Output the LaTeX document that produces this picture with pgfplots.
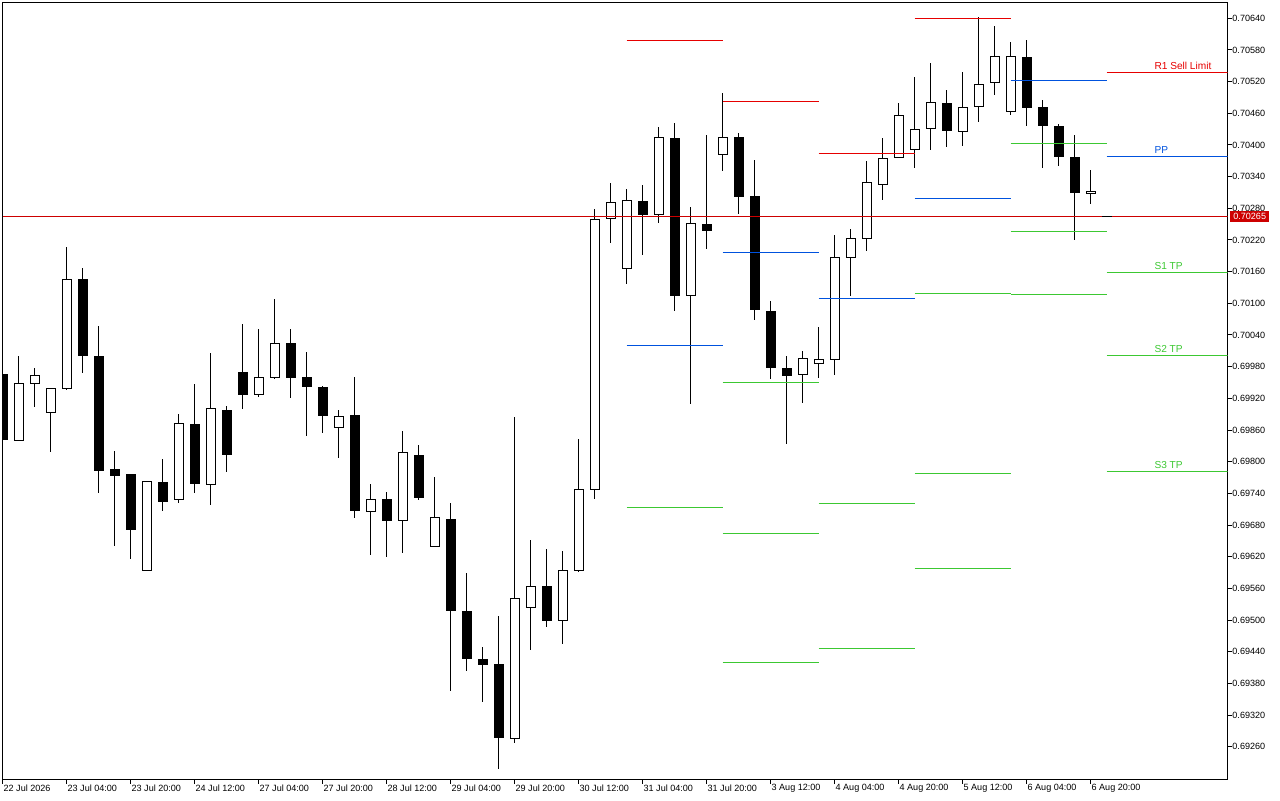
\documentclass[border=0pt]{standalone}
\usepackage{fontspec}
\setmainfont{Liberation Sans}
\usepackage{pgfplots}
\usepackage{pgfplotstable}
\pgfplotsset{compat=1.18}
\definecolor{lvred}{RGB}{230,0,0}
\definecolor{lvblue}{RGB}{0,82,222}
\definecolor{lvgreen}{RGB}{60,200,50}
\definecolor{pricered}{RGB}{205,0,0}

% bullish (white) candles
\pgfplotstableread{
i O H L C
1 0.69842 0.70002 0.69840 0.69949
2 0.69949 0.69978 0.69904 0.69964
3 0.69895 0.69942 0.69819 0.69939
4 0.69939 0.70207 0.69936 0.70147
9 0.69594 0.69763 0.69594 0.69763
11 0.69729 0.69890 0.69722 0.69873
13 0.69757 0.70007 0.69720 0.69901
16 0.69928 0.70053 0.69923 0.69960
17 0.69961 0.70108 0.69957 0.70026
21 0.69867 0.69898 0.69808 0.69888
23 0.69708 0.69758 0.69624 0.69729
25 0.69689 0.69860 0.69628 0.69816
27 0.69640 0.69773 0.69640 0.69695
32 0.69278 0.69885 0.69267 0.69543
33 0.69524 0.69652 0.69444 0.69564
35 0.69500 0.69631 0.69456 0.69594
36 0.69594 0.69843 0.69592 0.69748
37 0.69748 0.70281 0.69730 0.70259
38 0.70261 0.70328 0.70215 0.70291
39 0.70166 0.70317 0.70137 0.70295
41 0.70269 0.70434 0.70253 0.70415
43 0.70115 0.70283 0.69911 0.70252
45 0.70382 0.70499 0.70351 0.70416
50 0.69966 0.70010 0.69911 0.69996
51 0.69988 0.70057 0.69959 0.69996
52 0.69994 0.70231 0.69965 0.70187
53 0.70187 0.70241 0.70115 0.70223
54 0.70223 0.70370 0.70200 0.70329
55 0.70327 0.70415 0.70298 0.70377
56 0.70377 0.70481 0.70377 0.70458
57 0.70392 0.70529 0.70357 0.70430
58 0.70432 0.70557 0.70391 0.70481
60 0.70426 0.70538 0.70399 0.70471
61 0.70473 0.70643 0.70444 0.70515
62 0.70519 0.70625 0.70495 0.70568
63 0.70464 0.70597 0.70457 0.70568
68 0.70308 0.70353 0.70289 0.70313
}\bull

% bearish (black) candles
\pgfplotstableread{
i O H L C
0 0.69968 0.69983 0.69839 0.69842
5 0.70147 0.70168 0.69969 0.70001
6 0.70002 0.70057 0.69741 0.69783
7 0.69788 0.69820 0.69641 0.69774
8 0.69776 0.69777 0.69616 0.69671
10 0.69763 0.69805 0.69707 0.69726
12 0.69873 0.69949 0.69741 0.69759
14 0.69899 0.69906 0.69781 0.69813
15 0.69971 0.70062 0.69900 0.69927
18 0.70026 0.70051 0.69921 0.69959
19 0.69962 0.70008 0.69849 0.69942
20 0.69942 0.69943 0.69855 0.69887
22 0.69888 0.69962 0.69694 0.69707
24 0.69729 0.69744 0.69620 0.69688
26 0.69815 0.69832 0.69728 0.69732
28 0.69693 0.69722 0.69366 0.69518
29 0.69518 0.69589 0.69404 0.69427
30 0.69428 0.69449 0.69345 0.69417
31 0.69418 0.69508 0.69218 0.69277
34 0.69565 0.69635 0.69487 0.69499
40 0.70295 0.70326 0.70192 0.70268
42 0.70415 0.70442 0.70086 0.70115
44 0.70252 0.70419 0.70204 0.70238
46 0.70416 0.70425 0.70270 0.70302
47 0.70303 0.70372 0.70069 0.70088
48 0.70087 0.70104 0.69957 0.69979
49 0.69979 0.70002 0.69834 0.69965
59 0.70479 0.70504 0.70397 0.70427
64 0.70568 0.70599 0.70435 0.70471
65 0.70473 0.70485 0.70357 0.70437
66 0.70437 0.70440 0.70361 0.70378
67 0.70379 0.70421 0.70222 0.70310
}\bear

\pgfplotsset{candle/.style={draw=none, mark=none, forget plot,
  error bars/.cd, y dir=both, y explicit, error mark=none},
  lvl/.style={line width=0.75pt, forget plot}}

\begin{document}
\begin{tikzpicture}
\useasboundingbox (0,0) rectangle (960pt,600pt);
\begin{axis}[
  at={(1.875pt,15.375pt)}, anchor=south west,
  scale only axis, width=918.75pt, height=582.75pt,
  xmin=-0.0125, xmax=76.55, ymin=0.691979, ymax=0.706699,
  axis line style={line width=0.75pt, black},
  tick style={black, line width=0.75pt},
  tick align=outside, major tick length=3pt,
  xtick pos=bottom, ytick pos=right, yticklabel pos=right,
  scaled y ticks=false,
  xtick={0,4,...,68},
  xticklabels={22 Jul 2026, 23 Jul 04:00, 23 Jul 20:00, 24 Jul 12:00, 27 Jul 04:00, 27 Jul 20:00, 28 Jul 12:00, 29 Jul 04:00, 29 Jul 20:00, 30 Jul 12:00, 31 Jul 04:00, 31 Jul 20:00, 3 Aug 12:00, 4 Aug 04:00, 4 Aug 20:00, 5 Aug 12:00, 6 Aug 04:00, 6 Aug 20:00},
  ytick={0.69260,0.69320,0.69380,0.69440,0.69500,0.69560,0.69620,0.69680,0.69740,0.69800,0.69860,0.69920,0.69980,0.70040,0.70100,0.70160,0.70220,0.70280,0.70340,0.70400,0.70460,0.70520,0.70580,0.70640},
  yticklabels={0.69260,0.69320,0.69380,0.69440,0.69500,0.69560,0.69620,0.69680,0.69740,0.69800,0.69860,0.69920,0.69980,0.70040,0.70100,0.70160,0.70220,0.70280,0.70340,0.70400,0.70460,0.70520,0.70580,0.70640},
  ticklabel style={font=\fontsize{6.8pt}{8pt}\selectfont, text=black},
  xticklabel style={anchor=north west, inner sep=0pt, xshift=0.5pt, yshift=-0.5pt},
  yticklabel style={anchor=west, inner sep=0pt, xshift=0.5pt},
]
% wicks
\addplot[candle, error bar style={draw=black, line width=0.75pt}]
  table[x=i, y expr={(\thisrow{H}+\thisrow{L})/2}, y error expr={(\thisrow{H}-\thisrow{L})/2}] {\bull};
\addplot[candle, error bar style={draw=black, line width=0.75pt}]
  table[x=i, y expr={(\thisrow{H}+\thisrow{L})/2}, y error expr={(\thisrow{H}-\thisrow{L})/2}] {\bear};
% bearish bodies
\addplot[candle, error bar style={draw=black, line width=7.5pt}]
  table[x=i, y expr={(\thisrow{O}+\thisrow{C})/2}, y error expr={max((\thisrow{O}-\thisrow{C})/2,0.00001)}] {\bear};
% bullish bodies: outline then white interior
\addplot[candle, error bar style={draw=black, line width=7.5pt}]
  table[x=i, y expr={(\thisrow{O}+\thisrow{C})/2}, y error expr={max((\thisrow{C}-\thisrow{O})/2+0.0000095,0.00001)}] {\bull};
\addplot[candle, error bar style={draw=white, line width=6pt}]
  table[x=i, y expr={(\thisrow{O}+\thisrow{C})/2}, y error expr={max((\thisrow{C}-\thisrow{O})/2-0.0000095,0.000001)}] {\bull};

% pivot levels per day
\addplot[lvl, draw=lvred] coordinates {(39,0.705979) (45,0.705979)};
\addplot[lvl, draw=lvblue] coordinates {(39,0.700201) (45,0.700201)};
\addplot[lvl, draw=lvgreen] coordinates {(39,0.697132) (45,0.697132)};

\addplot[lvl, draw=lvred] coordinates {(45,0.704824) (51,0.704824)};
\addplot[lvl, draw=lvblue] coordinates {(45,0.701963) (51,0.701963)};
\addplot[lvl, draw=lvgreen] coordinates {(45,0.699500) (51,0.699500)};
\addplot[lvl, draw=lvgreen] coordinates {(45,0.696639) (51,0.696639)};
\addplot[lvl, draw=lvgreen] coordinates {(45,0.694195) (51,0.694195)};

\addplot[lvl, draw=lvred] coordinates {(51,0.703838) (57,0.703838)};
\addplot[lvl, draw=lvblue] coordinates {(51,0.701091) (57,0.701091)};
\addplot[lvl, draw=lvgreen] coordinates {(51,0.697208) (57,0.697208)};
\addplot[lvl, draw=lvgreen] coordinates {(51,0.694461) (57,0.694461)};

\addplot[lvl, draw=lvred] coordinates {(57,0.706396) (63,0.706396)};
\addplot[lvl, draw=lvblue] coordinates {(57,0.702986) (63,0.702986)};
\addplot[lvl, draw=lvgreen] coordinates {(57,0.701186) (63,0.701186)};
\addplot[lvl, draw=lvgreen] coordinates {(57,0.697776) (63,0.697776)};
\addplot[lvl, draw=lvgreen] coordinates {(57,0.695976) (63,0.695976)};

\addplot[lvl, draw=lvblue] coordinates {(63,0.705221) (69,0.705221)};
\addplot[lvl, draw=lvgreen] coordinates {(63,0.704028) (69,0.704028)};
\addplot[lvl, draw=lvgreen] coordinates {(63,0.702361) (69,0.702361)};
\addplot[lvl, draw=lvgreen] coordinates {(63,0.701167) (69,0.701167)};

\addplot[lvl, draw=lvred] coordinates {(69,0.705373) (76.55,0.705373)};
\addplot[lvl, draw=lvblue] coordinates {(69,0.703782) (76.55,0.703782)};
\addplot[lvl, draw=lvgreen] coordinates {(69,0.701584) (76.55,0.701584)};
\addplot[lvl, draw=lvgreen] coordinates {(69,0.700012) (76.55,0.700012)};
\addplot[lvl, draw=lvgreen] coordinates {(69,0.697814) (76.55,0.697814)};

% current price line
\addplot[lvl, draw=pricered] coordinates {(-0.0125,0.702645) (76.55,0.702645)};
\addplot[lvl, draw=black] coordinates {(68.72,0.702645) (69.34,0.702645)};

% level labels
\node[anchor=base west, inner sep=0pt, text=lvred, font=\fontsize{7.6pt}{9pt}\selectfont] at (axis cs:71.97,0.705373) [yshift=1.9pt] {R1 Sell Limit};
\node[anchor=base west, inner sep=0pt, text=lvblue, font=\fontsize{7.6pt}{9pt}\selectfont] at (axis cs:71.97,0.703782) [yshift=1.9pt] {PP};
\node[anchor=base west, inner sep=0pt, text=lvgreen, font=\fontsize{7.6pt}{9pt}\selectfont] at (axis cs:71.97,0.701584) [yshift=1.9pt] {S1 TP};
\node[anchor=base west, inner sep=0pt, text=lvgreen, font=\fontsize{7.6pt}{9pt}\selectfont] at (axis cs:71.97,0.700012) [yshift=1.9pt] {S2 TP};
\node[anchor=base west, inner sep=0pt, text=lvgreen, font=\fontsize{7.6pt}{9pt}\selectfont] at (axis cs:71.97,0.697814) [yshift=1.9pt] {S3 TP};
\coordinate (pricepos) at (axis cs:76.55,0.702645);
\end{axis}
\node[anchor=west, fill=pricered, text=white, inner xsep=2.25pt, inner ysep=0pt, minimum height=8.25pt, font=\fontsize{6.8pt}{8pt}\selectfont] at ([xshift=1.875pt]pricepos) {0.70265};
\end{tikzpicture}
\end{document}
